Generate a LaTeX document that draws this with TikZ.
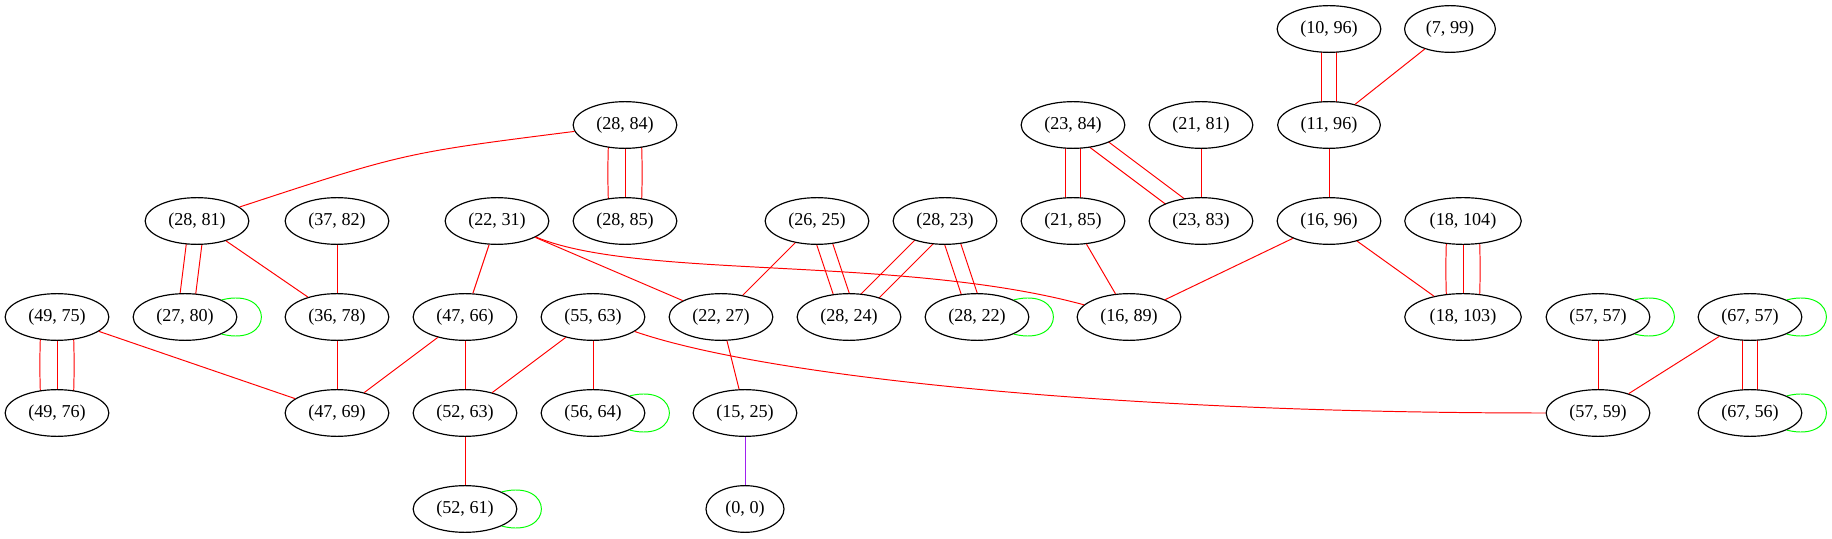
\documentclass[tikz,border=0pt]{standalone}
\usepackage{fontspec}
\setmainfont{Liberation Serif}
\usetikzlibrary{shapes.geometric,calc}
\pgfdeclarelayer{edgelayer}
\pgfsetlayers{edgelayer,main}
\definecolor{gvpurple}{RGB}{160,32,240}
\definecolor{gvgreen}{RGB}{0,255,0}
\definecolor{gvred}{RGB}{255,0,0}
\begin{document}
\begin{tikzpicture}[x=0.771pt,y=-0.771pt,
  nd/.style={draw=black, fill=white, ellipse, line width=0.9pt, inner xsep=6.1pt, inner ysep=0pt, minimum height=36pt, font=\fontsize{14}{16}\selectfont},
  ed/.style={draw=gvred, line width=0.75pt},
  lp/.style={draw=gvgreen, line width=0.75pt},
  pe/.style={draw=gvpurple, line width=0.75pt}]
\useasboundingbox (0,0) rectangle (1832,539);
% row 0
\node[nd] (n1096) at (1329,29) {(10, 96)};
\node[nd] (n799) at (1450,29) {(7, 99)};
% row 1
\node[nd] (n2884) at (625,125) {(28, 84)};
\node[nd] (n2384) at (1073,125) {(23, 84)};
\node[nd] (n2181) at (1201,125) {(21, 81)};
\node[nd] (n1196) at (1329,125) {(11, 96)};
% row 2
\node[nd] (n2881) at (197,221) {(28, 81)};
\node[nd] (n3782) at (337,221) {(37, 82)};
\node[nd] (n2231) at (497,221) {(22, 31)};
\node[nd] (n2885) at (625,221) {(28, 85)};
\node[nd] (n2625) at (817,221) {(26, 25)};
\node[nd] (n2823) at (945,221) {(28, 23)};
\node[nd] (n2185) at (1073,221) {(21, 85)};
\node[nd] (n2383) at (1201,221) {(23, 83)};
\node[nd] (n1696) at (1329,221) {(16, 96)};
\node[nd] (n18104) at (1463,221) {(18, 104)};
% row 3
\node[nd] (n4975) at (57,317) {(49, 75)};
\node[nd] (n2780) at (185,317) {(27, 80)};
\node[nd] (n3678) at (337,317) {(36, 78)};
\node[nd] (n4766) at (465,317) {(47, 66)};
\node[nd] (n5563) at (593,317) {(55, 63)};
\node[nd] (n2227) at (721,317) {(22, 27)};
\node[nd] (n2824) at (849,317) {(28, 24)};
\node[nd] (n2822) at (977,317) {(28, 22)};
\node[nd] (n1689) at (1129,317) {(16, 89)};
\node[nd] (n18103) at (1463,317) {(18, 103)};
\node[nd] (n5757) at (1598,317) {(57, 57)};
\node[nd] (n6757) at (1750,317) {(67, 57)};
% row 4
\node[nd] (n4976) at (57,413) {(49, 76)};
\node[nd] (n4769) at (337,413) {(47, 69)};
\node[nd] (n5263) at (465,413) {(52, 63)};
\node[nd] (n5664) at (593,413) {(56, 64)};
\node[nd] (n1525) at (745,413) {(15, 25)};
\node[nd] (n5759) at (1598,413) {(57, 59)};
\node[nd] (n6756) at (1750,413) {(67, 56)};
% row 5
\node[nd] (n5261) at (465,509) {(52, 61)};
\node[nd] (n00) at (745,509) {(0, 0)};

% single edges
\draw[ed] (n2884) .. controls (404,153) .. (n2881);
\draw[ed] (n2881) -- (n3678);
\draw[ed] (n3782) -- (n3678);
\draw[ed] (n3678) -- (n4769);
\draw[ed] (n2231) -- (n4766);
\draw[ed] (n2231) -- (n2227);
\draw[ed] (n2231) .. controls (640,280) and (900,255) .. (n1689);
\draw[ed] (n4975) -- (n4769);
\draw[ed] (n4766) -- (n4769);
\draw[ed] (n4766) -- (n5263);
\draw[ed] (n5563) -- (n5263);
\draw[ed] (n5563) -- (n5664);
\draw[ed] (n5563) .. controls (760,375) and (1100,413) .. (n5759);
\draw[ed] (n5263) -- (n5261);
\draw[ed] (n2625) -- (n2227);
\draw[ed] (n2227) -- (n1525);
\draw[pe] (n1525) -- (n00);
\draw[ed] (n2181) -- (n2383);
\draw[ed] (n2185) -- (n1689);
\draw[ed] (n799) -- (n1196);
\draw[ed] (n1196) -- (n1696);
\draw[ed] (n1696) -- (n1689);
\draw[ed] (n1696) -- (n18103);
\draw[ed] (n5757) -- (n5759);
\draw[ed] (n6757) -- (n5759);

\begin{pgfonlayer}{edgelayer}
% triple edges (parallel, hidden inside the white-filled nodes)
\foreach \a/\b in {n2884/n2885, n4975/n4976, n18104/n18103}{
  \draw[ed] (\a) -- (\b);
  \draw[ed] ($(\a)!12.3pt!90:(\b)$) .. controls ($(\a)!0.45!(\b)!13.5pt!90:(\b)$) and ($(\b)!0.45!(\a)!13.5pt!-90:(\a)$) .. ($(\b)!12.3pt!-90:(\a)$);
  \draw[ed] ($(\a)!12.3pt!-90:(\b)$) .. controls ($(\a)!0.45!(\b)!13.5pt!-90:(\b)$) and ($(\b)!0.45!(\a)!13.5pt!90:(\a)$) .. ($(\b)!12.3pt!90:(\a)$);
}
% double edges
\foreach \a/\b in {n2881/n2780, n2625/n2824, n2823/n2824, n2823/n2822, n2384/n2185, n2384/n2383, n1096/n1196, n6757/n6756}{
  \draw[ed] ($(\a)!6pt!90:(\b)$) -- ($(\b)!6pt!-90:(\a)$);
  \draw[ed] ($(\a)!6pt!-90:(\b)$) -- ($(\b)!6pt!90:(\a)$);
}
\end{pgfonlayer}
% self loops
\foreach \n in {n2780, n2822, n5664, n5261, n5757, n6757, n6756}{
  \draw[lp] (\n.25) .. controls +(53,-13.3) and +(53,13.3) .. (\n.-25);
}
\end{tikzpicture}
\end{document}
